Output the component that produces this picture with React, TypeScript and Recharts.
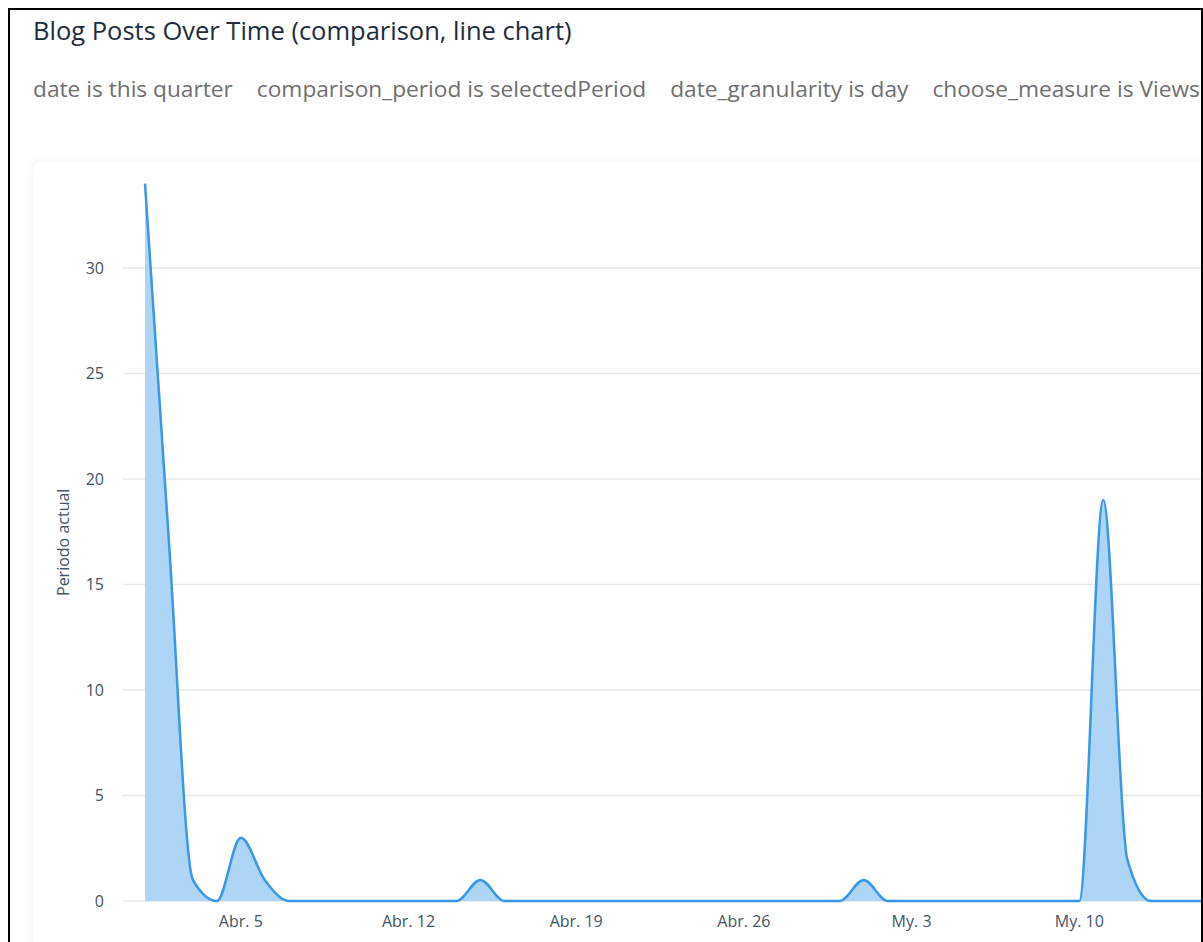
import React from 'react';
import { AreaChart, Area, XAxis, YAxis, CartesianGrid } from 'recharts';

const categories = [
  'Abr. 1', 'Abr. 2', 'Abr. 3', 'Abr. 4', 'Abr. 5', 'Abr. 6', 'Abr. 7', 'Abr. 8', 'Abr. 9', 'Abr. 10',
  'Abr. 11', 'Abr. 12', 'Abr. 13', 'Abr. 14', 'Abr. 15', 'Abr. 16', 'Abr. 17', 'Abr. 18', 'Abr. 19', 'Abr. 20',
  'Abr. 21', 'Abr. 22', 'Abr. 23', 'Abr. 24', 'Abr. 25', 'Abr. 26', 'Abr. 27', 'Abr. 28', 'Abr. 29', 'Abr. 30',
  'My. 1', 'My. 2', 'My. 3', 'My. 4', 'My. 5', 'My. 6', 'My. 7', 'My. 8', 'My. 9', 'My. 10',
  'My. 11', 'My. 12', 'My. 13', 'My. 14', 'My. 15', 'My. 16',
];

const currentPeriod = [
  34, 17, 1, 0, 3, 1, 0, 0, 0, 0,
  0, 0, 0, 0, 1, 0, 0, 0, 0, 0,
  0, 0, 0, 0, 0, 0, 0, 0, 0, 0,
  1, 0, 0, 0, 0, 0, 0, 0, 0, 0,
  19, 2, 0, 0, 0, 0,
];

const xTickIndex = [4, 11, 18, 25, 32, 39];
const yTicks = [0, 5, 10, 15, 20, 25, 30];

const filters = [
  'date is this quarter',
  'comparison_period is selectedPeriod',
  'date_granularity is day',
  'choose_measure is Views',
];

const title = 'Blog Posts Over Time (comparison, line chart)';
const yLabel = 'Periodo actual';

const data = categories.map((c, i) => ({ i, label: c, value: currentPeriod[i] }));

const FONT = '"Open Sans", sans-serif';

export default function App() {
  return (
    <div
      style={{
        position: 'fixed',
        left: 8,
        top: 8,
        width: 1195,
        height: 934,
        boxSizing: 'border-box',
        borderTop: '2px solid #000',
        borderLeft: '2px solid #000',
        borderRight: '2px solid #000',
        overflow: 'hidden',
        background: '#fff',
        fontFamily: FONT,
      }}
    >
      <div
        style={{
          position: 'absolute',
          left: 23,
          top: 3,
          fontSize: 25.5,
          lineHeight: '34px',
          color: '#1d2d3e',
          whiteSpace: 'nowrap',
        }}
      >
        {title}
      </div>
      <div
        style={{
          position: 'absolute',
          left: 23,
          top: 64,
          fontSize: 22.7,
          lineHeight: '30px',
          color: '#6f6f6f',
          whiteSpace: 'nowrap',
          display: 'flex',
        }}
      >
        {filters.map((f) => (
          <span key={f} style={{ marginRight: 24 }}>
            {f}
          </span>
        ))}
      </div>
      <div
        style={{
          position: 'absolute',
          left: 23,
          top: 152,
          width: 1260,
          height: 820,
          background: '#fff',
          borderRadius: 8,
          boxShadow: '0 0 10px rgba(0,0,0,0.07)',
        }}
      >
        <AreaChart
          width={1190}
          height={800}
          data={data}
          margin={{ top: 21.6, right: 0, bottom: 0, left: 0 }}
        >
          <CartesianGrid vertical={false} stroke="#e8e8e8" strokeWidth={1.5} syncWithTicks />
          <XAxis
            dataKey="i"
            type="number"
            domain={[0, categories.length - 1]}
            ticks={xTickIndex}
            tickFormatter={(v: number) => categories[v]}
            padding={{ left: 22, right: 0 }}
            axisLine={false}
            tickLine={false}
            tickMargin={9}
            height={61}
            tick={{ fill: '#425466', fontSize: 16, fontFamily: FONT }}
            allowDecimals={false}
          />
          <YAxis
            domain={[0, 34]}
            ticks={yTicks}
            width={90}
            axisLine={false}
            tickLine={false}
            tickMargin={13}
            tick={{ fill: '#425466', fontSize: 16, fontFamily: FONT }}
            label={{
              value: yLabel,
              angle: -90,
              position: 'insideLeft',
              offset: 30,
              style: { fill: '#425466', fontSize: 16, fontFamily: FONT, textAnchor: 'middle' },
            }}
          />
          <Area
            type="monotone"
            dataKey="value"
            stroke="#3a97e9"
            strokeWidth={2.5}
            fill="#afd5f6"
            fillOpacity={1}
            isAnimationActive={false}
            dot={false}
            activeDot={false}
          />
        </AreaChart>
      </div>
    </div>
  );
}
